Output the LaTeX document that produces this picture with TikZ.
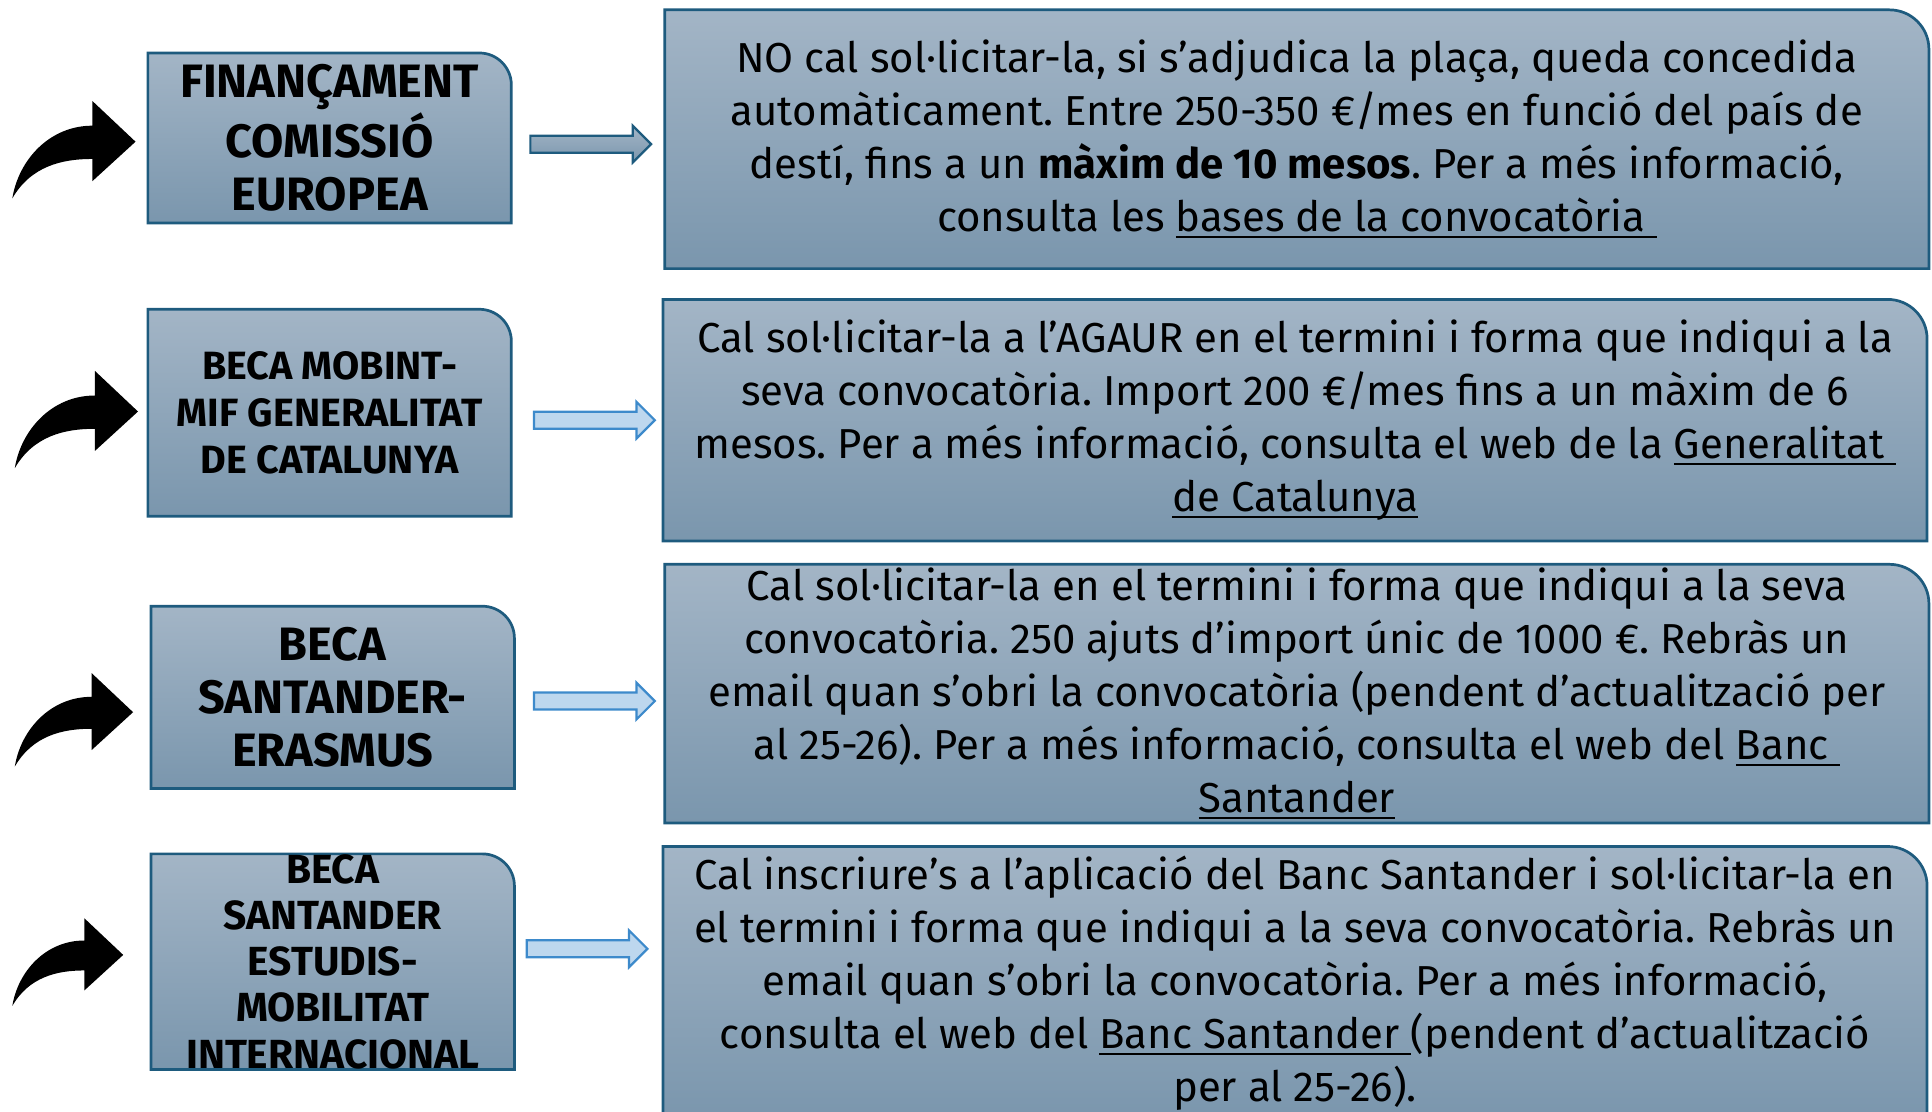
\documentclass[tikz,border=0pt]{standalone}
\usepackage{xcolor}
\usepackage{fontspec}
\usepackage{tikz}
\usetikzlibrary{shapes.arrows}
\usetikzlibrary{backgrounds}
\newfontfamily\bodyfont{Fira Sans}
\newfontfamily\headfont{Fira Sans}
\newcommand{\weblink}[1]{\setbox0\hbox{#1}\rlap{\rule[-2.6pt]{\wd0}{0.75pt}}\box0}
\definecolor{paneltop}{HTML}{A3B5C6}
\definecolor{panelbottom}{HTML}{7A96AD}
\definecolor{panelline}{HTML}{1E5B7E}
\definecolor{hintfill}{HTML}{BDD7EE}
\definecolor{hintline}{HTML}{3D8ACB}
\frenchspacing

\begin{document}
\begin{tikzpicture}[x=1pt, y=1pt,
        panel/.style={top color=paneltop, bottom color=panelbottom, draw=panelline, line width=1.1pt},
        title/.style={align=center, inner sep=0pt, outer sep=0pt, minimum width=147.5pt},
        info/.style={align=center, inner sep=0pt, outer sep=0pt, minimum width=513pt,
            font=\bodyfont\fontsize{17}{21.5}\selectfont},
        hint/.style={single arrow, single arrow head extend=4pt, inner sep=3pt,
            minimum height=49pt, draw=hintline, fill=hintfill, line width=0.9pt},
        hintgrey/.style={hint, draw=panelline, top color=paneltop, bottom color=panelbottom},
        bend/.pic={
            \fill (0,0) -- (-17.5,16.5) -- (-17.5,6.5)
                .. controls (-35,6.5) and (-47.5,-7.5) .. (-50,-23)
                .. controls (-42.5,-10) and (-30,-7) .. (-17.5,-7)
                -- (-17.5,-16) -- cycle;
        }]
            \useasboundingbox (0,0) rectangle (784,451);

            \node (fin) at (133.75,395) [title, minimum height=69pt,
                font=\headfont\bfseries\fontsize{19}{21.5}\selectfont]
                {FINANÇAMENT\\COMISSIÓ\\EUROPEA};
            \node (mob) at (133.75,283.5) [title, minimum height=84pt,
                font=\headfont\bfseries\fontsize{16}{19}\selectfont]
                {BECA MOBINT-\\MIF GENERALITAT\\DE CATALUNYA};
            \node (era) at (135,168) [title, minimum height=74pt,
                font=\headfont\bfseries\fontsize{19}{21.5}\selectfont]
                {BECA\\SANTANDER-\\ERASMUS};
            \node (mov) at (135,60.75) [title, minimum height=87.5pt,
                font=\headfont\bfseries\fontsize{16.5}{18.75}\selectfont]
                {BECA\\SANTANDER\\ESTUDIS-\\MOBILITAT\\INTERNACIONAL};

            \node (finInfo) at (526.25,394.5) [info, minimum height=105pt]
                {NO cal sol·licitar-la, si s’adjudica la plaça, queda concedida\\
                automàticament. Entre 250-350 €/mes en funció del país de\\
                destí, fins a un \textbf{màxim de 10 mesos}. Per a més informació,\\
                consulta les \weblink{bases de la convocatòria\ }};
            \node (mobInfo) at (525.5,280.5) [info, minimum height=98pt]
                {Cal sol·licitar-la a l’AGAUR en el termini i forma que indiqui a la\\
                seva convocatòria. Import 200 €/mes fins a un màxim de 6\\
                mesos. Per a més informació, consulta el web de la \weblink{Generalitat\ }\\
                \weblink{de Catalunya}};
            \node (eraInfo) at (526.25,169.5) [info, minimum height=105pt]
                {Cal sol·licitar-la en el termini i forma que indiqui a la seva\\
                convocatòria. 250 ajuts d’import únic de 1000 €. Rebràs un\\
                email quan s’obri la convocatòria (pendent d’actualització per\\
                al 25-26). Per a més informació, consulta el web del \weblink{Banc\ }\\
                \weblink{Santander}};
            \node (movInfo) at (525.5,52) [info, minimum height=111pt]
                {Cal inscriure’s a l’aplicació del Banc Santander i sol·licitar-la en\\
                el termini i forma que indiqui a la seva convocatòria. Rebràs un\\
                email quan s’obri la convocatòria. Per a més informació,\\
                consulta el web del \weblink{Banc Santander\ }(pendent d’actualització\\
                per al 25-26).};

            % panels with one rounded corner
            \begin{scope}[on background layer]
                \foreach \n/\r in {fin/13pt, mob/13pt, era/13pt, mov/13pt,
                    finInfo/16pt, mobInfo/16pt, eraInfo/16pt, movInfo/16pt} {
                    \shade[panel] (\n.south west) -- (\n.north west)
                        -- ([xshift=-\r]\n.north east) arc[start angle=90, end angle=0, radius=\r]
                        -- (\n.south east) -- cycle;
                }
            \end{scope}

            \node (to1) at (238,392.5) [hintgrey] {};
            \node (to2) at (239.5,280.5) [hint] {};
            \node (to3) at (239.5,166.5) [hint] {};
            \node (to4) at (236.5,66) [hint] {};

            \foreach \x/\y/\s in {55/393.5/1, 56/284/1, 54/162/0.96, 50/63.5/0.9} {
                \pic[scale=\s] at (\x,\y) {bend};
            }
        \end{tikzpicture}
\end{document}
